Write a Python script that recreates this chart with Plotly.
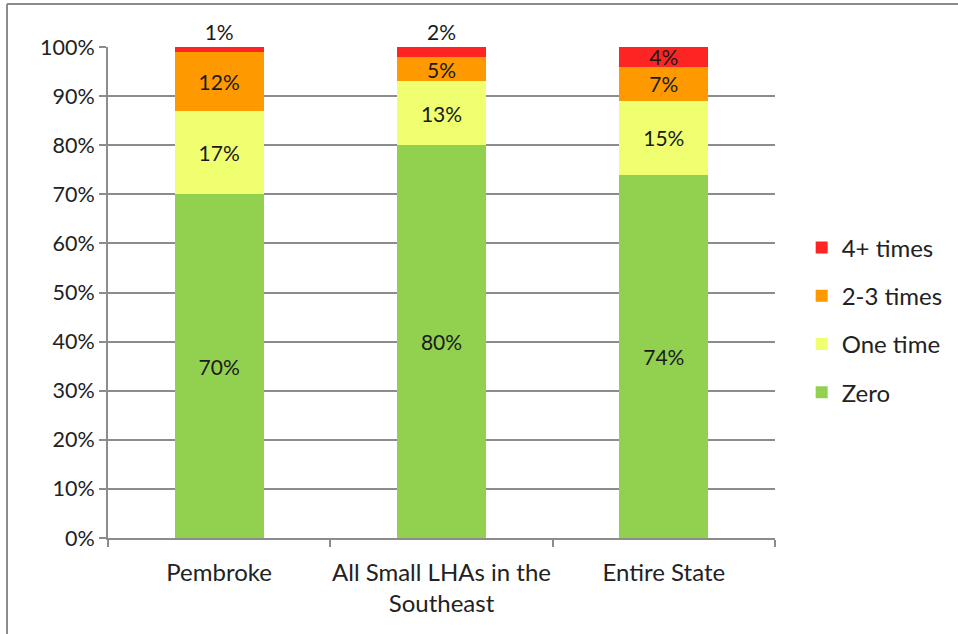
import plotly.graph_objects as go

categories = ["Pembroke", "All Small LHAs in the<br>Southeast", "Entire State"]
zero = [70, 80, 74]
one_time = [17, 13, 15]
two_three = [12, 5, 7]
four_plus = [1, 2, 4]
series_names = ["Zero", "One time", "2-3 times", "4+ times"]
colors = ["#92D050", "#F0FF70", "#FF9900", "#FF2424"]

W, H = 958, 634
ML, MR, MT, MB = 108, 183, 47, 96
FONT = "Lato, Liberation Sans, sans-serif"
grid = "#8C8C8C"

fig = go.Figure()
n = len(series_names)
for i, (name, vals, col) in enumerate(zip(series_names, [zero, one_time, two_three, four_plus], colors)):
    if name == "4+ times":
        pos = ["outside" if v < 3 else "inside" for v in vals]
    else:
        pos = "inside"
    fig.add_trace(go.Bar(
        x=categories, y=vals, name=name,
        marker=dict(color=col, line=dict(width=0)),
        text=[f"{v}%" for v in vals],
        textposition=pos,
        insidetextanchor="middle",
        textfont=dict(color="#1a1a1a", size=21, family=FONT),
        constraintext="none",
        cliponaxis=False,
        legendgroup=name,
        legendrank=n - i,
    ))

fig.update_layout(
    barmode="stack",
    bargap=0.6,
    width=W, height=H,
    margin=dict(l=ML, r=MR, t=MT, b=MB, autoexpand=False),
    paper_bgcolor="white", plot_bgcolor="white",
    font=dict(family=FONT, size=22, color="#222222"),
    showlegend=True,
    legend=dict(
        traceorder="grouped", tracegroupgap=14,
        x=1.04, xanchor="left", y=0.444, yanchor="middle",
        font=dict(size=24, family=FONT, color="#222222"),
        itemwidth=30,
    ),
    xaxis=dict(
        showline=True, linecolor=grid, linewidth=2,
        ticks="outside", tickson="boundaries", ticklen=7, tickcolor=grid, tickwidth=2,
        showgrid=False, tickfont=dict(size=24), ticklabelstandoff=12,
        tickangle=0, automargin=False,
    ),
    yaxis=dict(
        range=[0, 100], dtick=10, ticksuffix="%",
        showline=True, linecolor=grid, linewidth=2,
        ticks="outside", ticklen=7, tickcolor=grid, tickwidth=2,
        showgrid=True, gridcolor=grid, gridwidth=2,
        tickfont=dict(size=21.5), zeroline=False, automargin=False,
    ),
)

# chart frame (top and left border)
pw = W - ML - MR
ph = H - MT - MB
x_left = (7 - ML) / pw
x_right = (W - ML) / pw
y_top = (H - MB - 4) / ph
y_bot = (H - MB - H) / ph
fig.add_shape(type="line", xref="paper", yref="paper", x0=x_left, x1=x_right, y0=y_top, y1=y_top,
              line=dict(color="#8C8C8C", width=2))
fig.add_shape(type="line", xref="paper", yref="paper", x0=x_left, x1=x_left, y0=y_top, y1=y_bot,
              line=dict(color="#8C8C8C", width=2))

fig.write_html("out.html", config={"displayModeBar": False},
               post_script="document.body.style.margin='0';")
